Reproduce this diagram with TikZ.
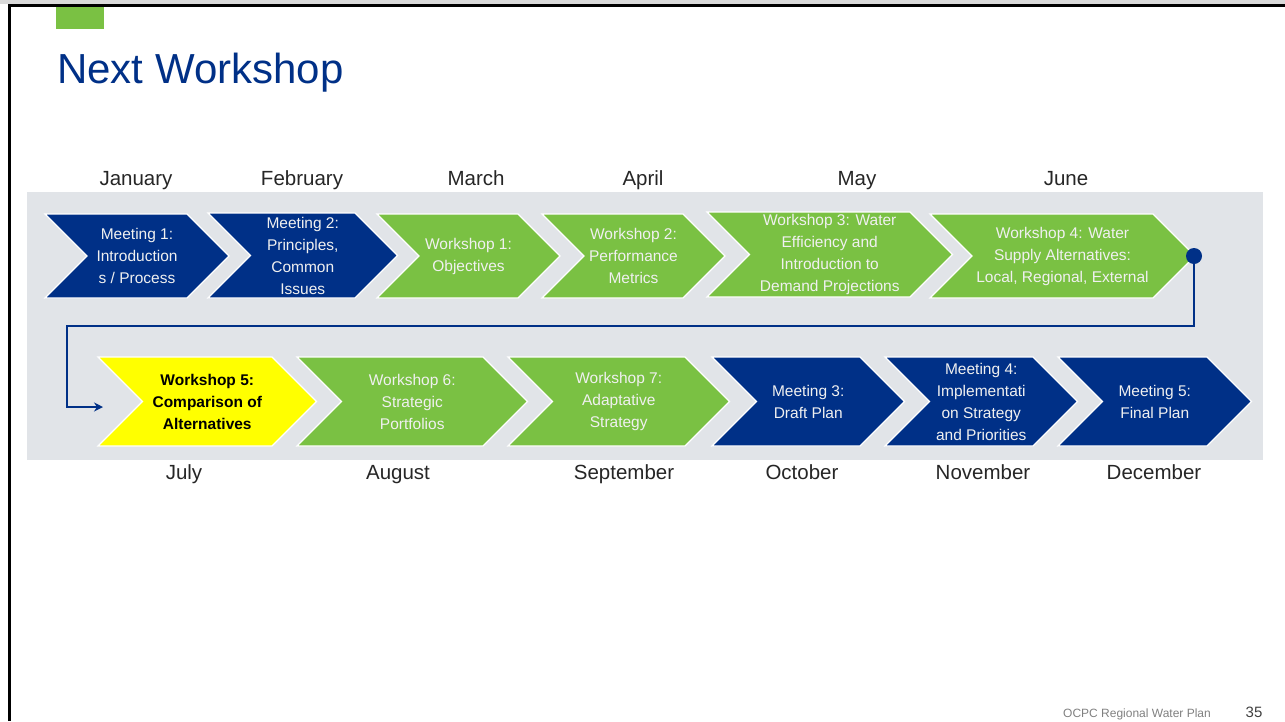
\documentclass[tikz,border=0pt]{standalone}
\usepackage{fontspec}
\setmainfont{Liberation Sans}
\usetikzlibrary{arrows.meta,positioning,calc}
\definecolor{navy}{HTML}{003087}
\definecolor{leaf}{HTML}{7AC143}
\definecolor{highlight}{HTML}{FFFF00}
\definecolor{band}{HTML}{E1E4E8}
\definecolor{footgray}{HTML}{808080}

% chevron: name, left, right, top, bottom, fill colour, text style, text
\newcommand{\stagechev}[8]{%
  \pgfmathsetmacro{\chevhalf}{(#5-#4)/2}%
  \pgfmathsetmacro{\chevmid}{(#4+#5)/2}%
  \filldraw[fill=#6,draw=white,line width=1.2pt] (#2,#4) -- (#3,#4) -- (#3+\chevhalf,\chevmid)
    -- (#3,#5) -- (#2,#5) -- (#2+\chevhalf,\chevmid) -- cycle;
  \node[#7] (#1) at ({(#2+\chevhalf+#3)/2},\chevmid) {#8};}

\begin{document}
\begin{tikzpicture}[x=1pt,y=-1pt,
  chevtext/.style={font=\fontsize{15.5}{22}\selectfont,align=center,inner sep=0pt,text=white!94!black},
  nowtext/.style={chevtext,text=black,font=\fontsize{15.5}{22}\selectfont\bfseries},
  month/.style={font=\fontsize{20.5}{24}\selectfont,text=black!85,anchor=base},
  conn/.style={navy,line width=2pt}]
  \useasboundingbox (0,0) rectangle (1285,721);

  % slide frame
  \fill[black!15] (0,0) rectangle (1285,3.5);
  \fill[leaf] (56,6) rectangle (104,29);
  \draw[line width=2.5pt] (9.5,721) -- (9.5,5.5) -- (1285,5.5);
  \node[anchor=base west,inner sep=0pt,text=navy,font=\fontsize{42}{48}\selectfont] (title) at (57,83) {Next Workshop};

  % timeline band
  \fill[band] (27,192) rectangle (1263,460);

  % months, first half
  \node[month] (jan) at (136,185) {January};
  \node[month] (feb) at (302,185) {February};
  \node[month] (mar) at (476,185) {March};
  \node[month] (apr) at (643,185) {April};
  \node[month] (may) at (857,185) {May};
  \node[month] (jun) at (1066,185) {June};

  % first row
  \stagechev{m1}{45}{187}{214}{298}{navy}{chevtext}{Meeting 1:\\Introduction\\s / Process}
  \stagechev{m2}{208}{355}{213}{298}{navy}{chevtext}{Meeting 2:\\Principles,\\Common\\Issues}
  \stagechev{w1}{377}{518}{214}{298}{leaf}{chevtext}{Workshop 1:\\Objectives}
  \stagechev{w2}{542}{683}{214}{298}{leaf}{chevtext}{Workshop 2:\\Performance\\Metrics}
  \stagechev{w3}{707}{910}{212}{297}{leaf}{chevtext}{Workshop 3: Water\\Efficiency and\\Introduction to\\Demand Projections}
  \stagechev{w4}{930}{1153}{214}{298}{leaf}{chevtext}{Workshop 4: Water\\Supply Alternatives:\\Local, Regional, External}

  % second row
  \stagechev{w5}{98}{272}{357}{446}{highlight}{nowtext}{Workshop 5:\\Comparison of\\Alternatives}
  \stagechev{w6}{297}{483}{357}{446}{leaf}{chevtext}{Workshop 6:\\Strategic\\Portfolios}
  \stagechev{w7}{508}{685}{357}{446}{leaf}{chevtext}{Workshop 7:\\Adaptative\\Strategy}
  \stagechev{m3}{712}{860}{357}{446}{navy}{chevtext}{Meeting 3:\\Draft Plan}
  \stagechev{m4}{885}{1033}{357}{446}{navy}{chevtext}{Meeting 4:\\Implementati\\on Strategy\\and Priorities}
  \stagechev{m5}{1058}{1207}{357}{446}{navy}{chevtext}{Meeting 5:\\Final Plan}

  % wrap-around connector
  \coordinate (joint) at (1194,256);
  \coordinate (bend) at (67,326);
  \coordinate (entry) at (103,407);
  \draw[conn,-{Stealth[length=9pt,width=9pt]}] (joint) |- (bend) |- (entry);
  \node[circle,fill=navy,inner sep=0pt,minimum size=16pt] (dot) at (joint) {};

  % months, second half
  \node[month] (jul) at (184,479) {July};
  \node[month] (aug) at (398,479) {August};
  \node[month] (sep) at (624,479) {September};
  \node[month] (oct) at (802,479) {October};
  \node[month] (nov) at (983,479) {November};
  \node[month] (dec) at (1154,479) {December};

  % footer
  \node[anchor=base,text=footgray,font=\fontsize{12}{14}\selectfont] (foot) at (1137,717) {OCPC Regional Water Plan};
  \node[anchor=base,text=black!75,font=\fontsize{15}{16}\selectfont] (page) at (1254,717) {35};
\end{tikzpicture}
\end{document}
